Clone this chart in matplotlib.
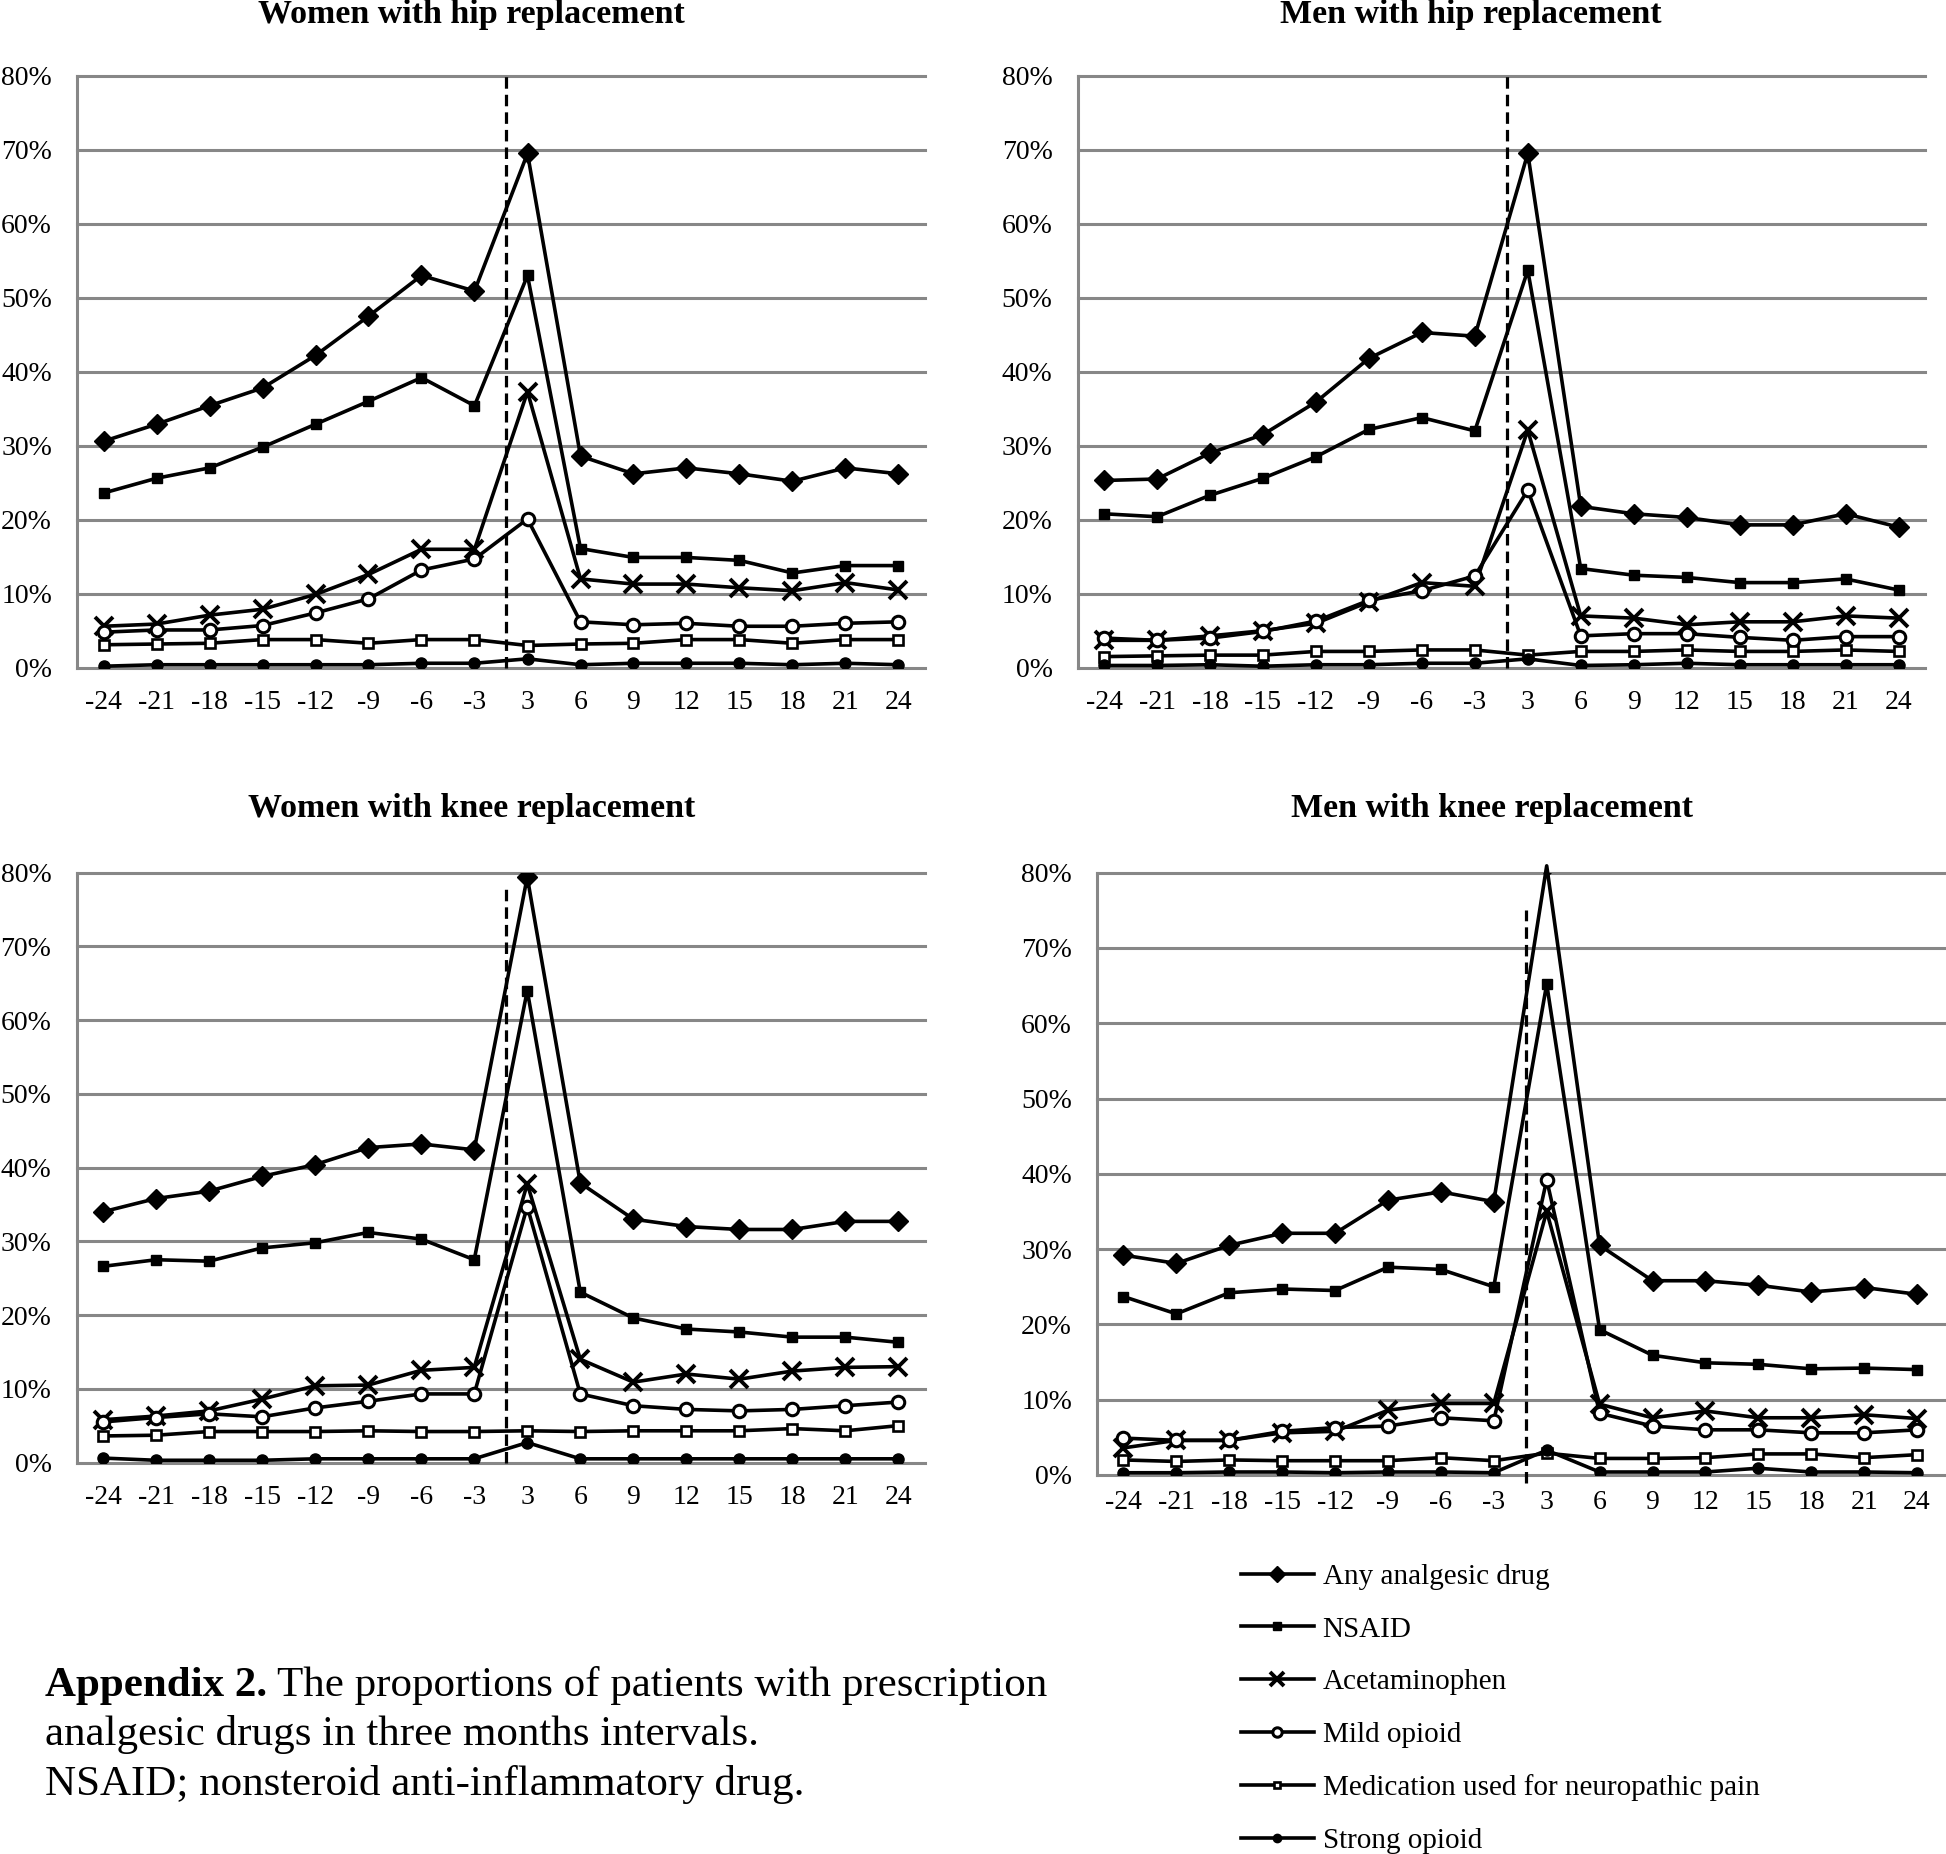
import matplotlib
matplotlib.use('Agg')
import matplotlib.pyplot as plt
from matplotlib.ticker import FuncFormatter, FixedLocator
from matplotlib.lines import Line2D

plt.rcParams['font.family'] = ['Liberation Serif', 'DejaVu Serif']

# ---------------- data ----------------
months = ['-24', '-21', '-18', '-15', '-12', '-9', '-6', '-3',
          '3', '6', '9', '12', '15', '18', '21', '24']
y_ticks = [0, 10, 20, 30, 40, 50, 60, 70, 80]
series_labels = ['Any analgesic drug', 'NSAID', 'Acetaminophen', 'Mild opioid',
                 'Medication used for neuropathic pain', 'Strong opioid']
panel_titles = ['Women with hip replacement', 'Men with hip replacement',
                'Women with knee replacement', 'Men with knee replacement']

# Women with hip replacement (%)
wh_any = [30.6, 32.9, 35.4, 37.8, 42.2, 47.5, 53.0, 50.9, 69.5, 28.6, 26.2, 27.0, 26.2, 25.2, 27.0, 26.2]
wh_nsaid = [23.6, 25.6, 27.0, 29.8, 32.9, 36.0, 39.2, 35.4, 53.0, 16.1, 14.9, 14.9, 14.5, 12.8, 13.8, 13.8]
wh_acet = [5.6, 5.9, 7.1, 7.9, 9.9, 12.6, 16.0, 16.0, 37.3, 12.0, 11.3, 11.3, 10.8, 10.4, 11.5, 10.5]
wh_mild = [4.8, 5.1, 5.1, 5.7, 7.4, 9.3, 13.2, 14.7, 20.1, 6.2, 5.8, 6.0, 5.6, 5.6, 6.0, 6.2]
wh_neuro = [3.1, 3.2, 3.3, 3.8, 3.8, 3.3, 3.8, 3.8, 3.0, 3.2, 3.3, 3.8, 3.8, 3.3, 3.8, 3.8]
wh_strong = [0.2, 0.4, 0.4, 0.4, 0.4, 0.4, 0.6, 0.6, 1.2, 0.4, 0.6, 0.6, 0.6, 0.4, 0.6, 0.4]

# Men with hip replacement (%)
mh_any = [25.3, 25.5, 29.0, 31.5, 35.9, 41.8, 45.3, 44.8, 69.5, 21.8, 20.8, 20.3, 19.3, 19.3, 20.8, 19.0]
mh_nsaid = [20.8, 20.4, 23.3, 25.6, 28.5, 32.2, 33.8, 32.0, 53.7, 13.4, 12.5, 12.2, 11.5, 11.5, 12.0, 10.5]
mh_acet = [3.7, 3.7, 4.3, 5.0, 6.0, 8.9, 11.5, 11.0, 32.1, 7.0, 6.7, 5.8, 6.2, 6.2, 7.0, 6.7]
mh_mild = [4.0, 3.7, 4.0, 4.9, 6.3, 9.1, 10.4, 12.4, 24.0, 4.3, 4.6, 4.6, 4.1, 3.7, 4.2, 4.2]
mh_neuro = [1.5, 1.6, 1.7, 1.7, 2.2, 2.2, 2.4, 2.4, 1.7, 2.2, 2.2, 2.4, 2.2, 2.2, 2.4, 2.2]
mh_strong = [0.3, 0.3, 0.4, 0.2, 0.4, 0.4, 0.6, 0.6, 1.2, 0.3, 0.4, 0.6, 0.4, 0.4, 0.4, 0.4]

# Women with knee replacement (%)
wk_any = [34.0, 35.8, 36.8, 38.8, 40.4, 42.7, 43.2, 42.4, 79.4, 37.9, 33.0, 32.0, 31.6, 31.6, 32.7, 32.7]
wk_nsaid = [26.6, 27.5, 27.3, 29.1, 29.8, 31.2, 30.3, 27.5, 64.0, 23.1, 19.6, 18.1, 17.7, 17.0, 17.0, 16.3]
wk_acet = [5.8, 6.3, 7.0, 8.6, 10.4, 10.5, 12.5, 12.9, 37.8, 14.0, 10.9, 12.0, 11.3, 12.4, 12.9, 13.0]
wk_mild = [5.5, 6.1, 6.6, 6.2, 7.4, 8.3, 9.3, 9.3, 34.7, 9.3, 7.7, 7.2, 7.0, 7.2, 7.7, 8.2]
wk_neuro = [3.6, 3.7, 4.2, 4.2, 4.2, 4.3, 4.2, 4.2, 4.3, 4.2, 4.3, 4.3, 4.3, 4.6, 4.3, 5.0]
wk_strong = [0.6, 0.3, 0.3, 0.3, 0.5, 0.5, 0.5, 0.5, 2.7, 0.5, 0.5, 0.5, 0.5, 0.5, 0.5, 0.5]

# Men with knee replacement (%)
mk_any = [29.2, 28.1, 30.5, 32.1, 32.1, 36.5, 37.6, 36.3, 80.9, 30.5, 25.8, 25.8, 25.2, 24.3, 24.9, 24.0]
mk_nsaid = [23.7, 21.4, 24.2, 24.7, 24.5, 27.6, 27.3, 25.0, 65.2, 19.3, 15.9, 14.9, 14.7, 14.1, 14.2, 14.0]
mk_acet = [3.6, 4.6, 4.6, 5.6, 5.8, 8.6, 9.5, 9.5, 35.0, 9.4, 7.6, 8.5, 7.6, 7.6, 8.0, 7.5]
mk_mild = [4.9, 4.6, 4.6, 5.8, 6.3, 6.5, 7.6, 7.2, 39.2, 8.2, 6.5, 6.0, 6.0, 5.6, 5.6, 6.0]
mk_neuro = [2.0, 1.8, 2.0, 1.9, 1.9, 1.9, 2.3, 1.9, 2.9, 2.2, 2.2, 2.3, 2.8, 2.8, 2.3, 2.7]
mk_strong = [0.3, 0.3, 0.4, 0.4, 0.3, 0.4, 0.4, 0.3, 3.3, 0.4, 0.4, 0.4, 0.9, 0.4, 0.4, 0.3]

panel_data = [
    [wh_any, wh_nsaid, wh_acet, wh_mild, wh_neuro, wh_strong],
    [mh_any, mh_nsaid, mh_acet, mh_mild, mh_neuro, mh_strong],
    [wk_any, wk_nsaid, wk_acet, wk_mild, wk_neuro, wk_strong],
    [mk_any, mk_nsaid, mk_acet, mk_mild, mk_neuro, mk_strong],
]

# ---------------- layout / style ----------------
W, H = 1946, 1854
fig = plt.figure(figsize=(W / 100, H / 100), dpi=100)

# (left, right, top(80%), bottom(0%)) in pixels
panel_boxes = [(77, 925, 75.7, 667.7), (1077.6, 1925, 75.7, 667.7),
               (76.5, 925, 872.6, 1462.5), (1097, 1943.5, 872.6, 1475)]
title_pos = [(471, 15), (1471, 15), (471.6, 809), (1492, 809)]
xtick_pads = [16, 16, 16.5, 10.5]
surgery_x = 7.6                     # dashed surgery marker between -3 and 3
dash_extent = [(0, 80), (0, 80), (0, 77.8), (-1, 75)]

GRID = '#878787'
LW = 2.6
styles = [
    dict(marker='D', ms=10.5, mfc='black', mec='black', mew=1),
    dict(marker='s', ms=7.5, mfc='black', mec='black', mew=1),
    dict(marker='x', ms=13, mec='black', mew=2.8),
    dict(marker='o', ms=9, mfc='white', mec='black', mew=2.2),
    dict(marker='s', ms=6.5, mfc='white', mec='black', mew=1.9),
    dict(marker='o', ms=8, mfc='black', mec='black', mew=1),
]

FS_TICK = 20
x = list(range(len(months)))

for i, (box, data) in enumerate(zip(panel_boxes, panel_data)):
    l, r, t, b = box
    ax = fig.add_axes([l / W, 1 - b / H, (r - l) / W, (b - t) / H])
    ax.set_xlim(-0.5, len(months) - 0.5)
    ax.set_ylim(0, 80)
    for sp in ['top', 'right', 'bottom']:
        ax.spines[sp].set_visible(False)
    ax.spines['left'].set_color(GRID)
    ax.spines['left'].set_linewidth(2.2)
    ax.yaxis.set_major_locator(FixedLocator(y_ticks))
    ax.yaxis.set_major_formatter(FuncFormatter(lambda v, p: f'{v:.0f}%'))
    ax.set_xticks(x)
    ax.set_xticklabels(months)
    ax.tick_params(axis='y', length=0, pad=18, labelsize=FS_TICK)
    ax.tick_params(axis='x', length=0, pad=xtick_pads[i], labelsize=FS_TICK)
    for yv in y_ticks:
        ax.axhline(yv, color=GRID, lw=2.2, zorder=1, clip_on=False)
    d0, d1 = dash_extent[i]
    ax.vlines(surgery_x, d0, d1, colors='black', linestyles=(0, (3.6, 1.9)),
              lw=2.3, zorder=2, clip_on=False)
    for vals, st in zip(data, styles):
        ax.plot(x, vals, color='black', lw=LW, zorder=3, clip_on=False)
        ax.plot(x, vals, linestyle='none', zorder=4, clip_on=True, **st)
    tx, ty = title_pos[i]
    fig.text(tx / W, 1 - ty / H, panel_titles[i], fontsize=24.5, fontweight='bold',
             ha='center', va='center')

# legend
handles = [Line2D([], [], color='black', lw=LW, **st) for st in styles]
fig.legend(handles, series_labels, loc='upper left',
           bbox_to_anchor=(1241 / W, 1 - 1563.5 / H), frameon=False, fontsize=21,
           handlelength=2.5, handletextpad=0.3, labelspacing=0.9,
           borderpad=0, borderaxespad=0, markerscale=0.75)

# caption
cax = fig.add_axes([0, 0, 1, 1])
cax.set_axis_off()
FS_CAP = 31
t1 = cax.text(44.7 / W, 1 - 1686 / H, 'Appendix 2.', fontsize=FS_CAP, fontweight='bold',
              ha='left', va='center', transform=cax.transAxes)
cax.annotate(' The proportions of patients with prescription', xy=(1, 0), xycoords=t1,
             ha='left', va='bottom', fontsize=FS_CAP)
cax.text(44.7 / W, 1 - 1735 / H, 'analgesic drugs in three months intervals.',
         fontsize=FS_CAP, ha='left', va='center', transform=cax.transAxes)
cax.text(44.7 / W, 1 - 1784.5 / H, 'NSAID; nonsteroid anti-inflammatory drug.',
         fontsize=FS_CAP, ha='left', va='center', transform=cax.transAxes)

fig.savefig('out.png', dpi=100, facecolor='white')
